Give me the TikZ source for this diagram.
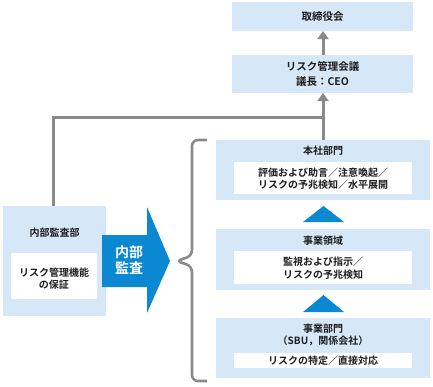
\documentclass[tikz,border=0pt]{standalone}
\usepackage{fontspec}
\newfontfamily\jp{Noto Sans CJK JP}[BoldFont={Noto Sans CJK JP Bold}]
\usetikzlibrary{arrows.meta}
\definecolor{lblue}{HTML}{D6E7F7}
\definecolor{dblue}{HTML}{0A88D2}
\definecolor{lgray}{HTML}{8A8A8A}
\definecolor{txt}{HTML}{1E1E1E}
\begin{document}
\begin{tikzpicture}[x=1pt,y=-1pt,
  font=\jp\bfseries\fontsize{10}{12.5}\selectfont,
  lbl/.style={text=txt,inner sep=0pt,align=center},
  conn/.style={draw=lgray,line width=3pt},
  arr/.style={conn,-{Triangle[length=8pt,width=11pt]}}]
\useasboundingbox (0,0) rectangle (433,386);
% boxes
\fill[lblue] (232,2) rectangle (413,31);
\node[lbl,font=\jp\bfseries\fontsize{10.5}{12}\selectfont] (board) at (322.5,16.5) {取締役会};
\coordinate (boardB) at (323,31);
\fill[lblue] (232,55) rectangle (413,93);
\node[lbl,font=\jp\bfseries\fontsize{10.5}{14.5}\selectfont] (risk) at (322.5,74) {リスク管理会議\\議長：CEO};
\coordinate (riskT) at (323,55);
\coordinate (riskB) at (323,93);
% HQ
\fill[lblue] (216,140) rectangle (430,200);
\coordinate (hqT) at (323,140);
\node[lbl] (hq) at (323,151) {本社部門};
\fill[white] (234,162) rectangle (412,194);
\node[lbl] (hqtxt) at (323,178.5) {評価および助言／注意喚起／\\リスクの予兆検知／水平展開};
% triangle 1
\fill[dblue] (303,222) -- (344,222) -- (323.5,206) -- cycle;
% domain
\fill[lblue] (216,229) rectangle (430,290);
\node[lbl] (dom) at (323,241) {事業領域};
\fill[white] (234,251) rectangle (412,284);
\node[lbl] (domtxt) at (323,268) {監視および指示／\\リスクの予兆検知};
% triangle 2
\fill[dblue] (303,312) -- (344,312) -- (323.5,295) -- cycle;
% business unit
\fill[lblue] (216,318) rectangle (430,378);
\node[lbl] (bu) at (323,335) {事業部門\\（SBU，関係会社）};
\fill[white] (234,353) rectangle (412,368);
\node[lbl] (butxt) at (323,361) {リスクの特定／直接対応};
% internal audit
\fill[lblue] (3,206) rectangle (106,316);
\coordinate (iaT) at (53,206);
\node[lbl] (ia) at (54.5,233) {内部監査部};
\fill[white] (11,253) rectangle (97,299);
\node[lbl] (iatxt) at (54,278.5) {リスク管理機能\\の保証};
% blue big arrow
\fill[dblue] (102,235) -- (147,235) -- (147,207) -- (170,261) -- (147,313) -- (147,287) -- (102,287) -- cycle;
\node[text=white,inner sep=0pt,align=center,font=\jp\bfseries\fontsize{14}{16}\selectfont] (audit) at (129,260.5) {内部\\監査};
% connectors
\coordinate (corner1) at (53,117);
\coordinate (corner2) at (323,117);
\draw[conn] (iaT) -- (corner1) -- (corner2);
\draw[arr] (hqT) -- (riskB);
\draw[arr] (riskT) -- (boardB);
% brace
\draw[conn,line width=2.6pt,rounded corners=6pt] (207,140) -- (192,140) -- (192,256) -- (176,261) -- (192,266) -- (192,381) -- (207,381);
\end{tikzpicture}
\end{document}
